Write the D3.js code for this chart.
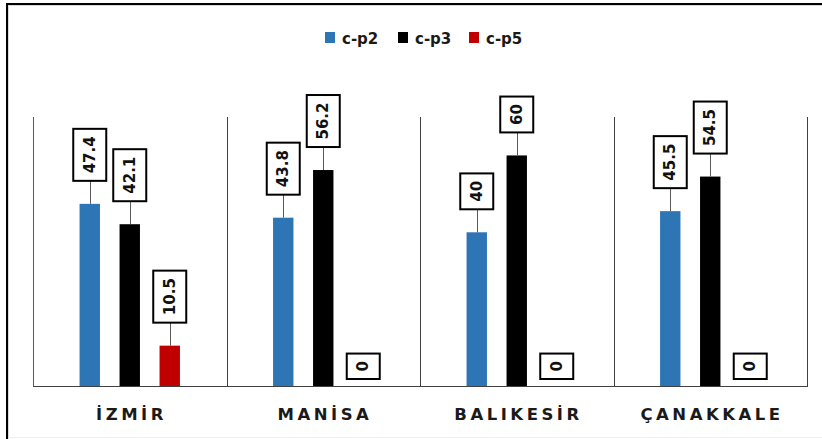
<!DOCTYPE html>
<html>
<head>
<meta charset="utf-8">
<script src="https://cdn.jsdelivr.net/npm/d3@7"></script>
<style>
  html, body { margin: 0; padding: 0; background: #fff; }
  svg { display: block; }
</style>
</head>
<body>
<svg id="chart" width="822" height="439"></svg>
<script>
// Region categories and the three series
const categories = ["İZMİR", "MANİSA", "BALIKESİR", "ÇANAKKALE"];
const seriesNames = ["c-p2", "c-p3", "c-p5"];
const seriesColors = ["#2e75b6", "#000000", "#c00000"];
const cp2 = [47.4, 43.8, 40, 45.5];
const cp3 = [42.1, 56.2, 60, 54.5];
const cp5 = [10.5, 0, 0, 0];
const seriesValues = [cp2, cp3, cp5];

const svg = d3.select("#chart");
const W = 822, H = 439;
const plot = { left: 33, right: 807, top: 117, bottom: 386 };

// Frame
svg.append("rect").attr("x", 0).attr("y", 0).attr("width", W).attr("height", H).attr("fill", "#fff");
svg.append("line").attr("x1", 7).attr("x2", W).attr("y1", 4).attr("y2", 4)
  .attr("stroke", "#000").attr("stroke-width", 2);
svg.append("line").attr("x1", 7).attr("x2", 7).attr("y1", 3).attr("y2", H)
  .attr("stroke", "#000").attr("stroke-width", 2);
svg.append("line").attr("x1", 8.5).attr("x2", W).attr("y1", 5.5).attr("y2", 5.5)
  .attr("stroke", "#d9d9d9").attr("stroke-width", 1);
svg.append("line").attr("x1", 8.5).attr("x2", 8.5).attr("y1", 5.5).attr("y2", H)
  .attr("stroke", "#d9d9d9").attr("stroke-width", 1);
svg.append("line").attr("x1", 8).attr("x2", W).attr("y1", 437.5).attr("y2", 437.5)
  .attr("stroke", "#eeeeee").attr("stroke-width", 1);

// Scales
const x = d3.scaleBand().domain(categories).range([plot.left, plot.right]).padding(0);
const xs = d3.scaleBand().domain(seriesNames).range([0, x.bandwidth()])
  .paddingInner(0.49).paddingOuter(1.164);
const y = d3.scaleLinear().domain([0, 70]).range([plot.bottom, plot.top]);

// Category separators (left axis line and group dividers)
const bounds = categories.map(c => x(c)).concat([plot.right]);
svg.append("g").selectAll("line").data(bounds).join("line")
  .attr("x1", d => Math.round(d) + 0.5).attr("x2", d => Math.round(d) + 0.5)
  .attr("y1", plot.top).attr("y2", plot.bottom)
  .attr("stroke", (d, i) => i === 0 ? "#595959" : "#404040").attr("stroke-width", 1);

// Bars
const barData = [];
categories.forEach((c, ci) => {
  seriesNames.forEach((s, si) => {
    barData.push({ cat: c, series: s, si, value: seriesValues[si][ci] });
  });
});

svg.append("g").selectAll("rect").data(barData.filter(d => d.value > 0)).join("rect")
  .attr("x", d => x(d.cat) + xs(d.series))
  .attr("y", d => y(d.value))
  .attr("width", xs.bandwidth())
  .attr("height", d => y(0) - y(d.value))
  .attr("fill", d => seriesColors[d.si]);

// Baseline
svg.append("line").attr("x1", plot.left).attr("x2", plot.right + 1)
  .attr("y1", plot.bottom + 0.5).attr("y2", plot.bottom + 0.5)
  .attr("stroke", "#404040").attr("stroke-width", 1);

// Value callouts: boxed, rotated labels with a leader line to the bar top
const labelFont = "bold 15px 'DejaVu Sans'";
const gap = 23;
const labels = svg.append("g");
barData.forEach(d => {
  const cx = x(d.cat) + xs(d.series) + xs.bandwidth() / 2;
  const g = labels.append("g");
  const txt = g.append("text")
    .attr("font-family", "DejaVu Sans").attr("font-weight", "bold").attr("font-size", 15)
    .attr("fill", "#111").attr("text-anchor", "middle")
    .attr("dominant-baseline", "central")
    .text(d.value);
  const len = txt.node().getComputedTextLength();
  const boxW = 33, boxH = len + 15;
  let bottom;
  if (d.value > 0) {
    bottom = y(d.value) - gap;
    g.insert("line", "text")
      .attr("x1", Math.round(cx) + 0.5).attr("x2", Math.round(cx) + 0.5)
      .attr("y1", bottom).attr("y2", y(d.value))
      .attr("stroke", "#595959").attr("stroke-width", 1);
  } else {
    bottom = y(0) - 7;
  }
  const top = bottom - boxH;
  g.insert("rect", "text")
    .attr("x", cx - boxW / 2).attr("y", top)
    .attr("width", boxW).attr("height", boxH)
    .attr("fill", "#fff").attr("stroke", "#000").attr("stroke-width", 2);
  txt.attr("transform", `translate(${cx},${top + boxH / 2}) rotate(-90)`);
});

// Category labels
svg.append("g").selectAll("text").data(categories).join("text")
  .attr("x", d => x(d) + x.bandwidth() / 2 + 1.75)
  .attr("y", 420)
  .attr("text-anchor", "middle")
  .attr("font-family", "DejaVu Sans").attr("font-weight", "bold").attr("font-size", 16.5)
  .attr("letter-spacing", 3.5)
  .attr("fill", "#1a1a1a")
  .text(d => d);

// Legend
const legendItems = [
  { name: seriesNames[0], color: seriesColors[0], x: 325 },
  { name: seriesNames[1], color: seriesColors[1], x: 398 },
  { name: seriesNames[2], color: seriesColors[2], x: 469 }
];
const lg = svg.append("g");
legendItems.forEach(it => {
  lg.append("rect").attr("x", it.x).attr("y", 32).attr("width", 10).attr("height", 11).attr("fill", it.color);
  lg.append("text").attr("x", it.x + 17).attr("y", 43.5)
    .attr("font-family", "DejaVu Sans").attr("font-weight", "bold").attr("font-size", 15)
    .attr("fill", "#1a1a1a").text(it.name);
});
</script>
</body>
</html>
